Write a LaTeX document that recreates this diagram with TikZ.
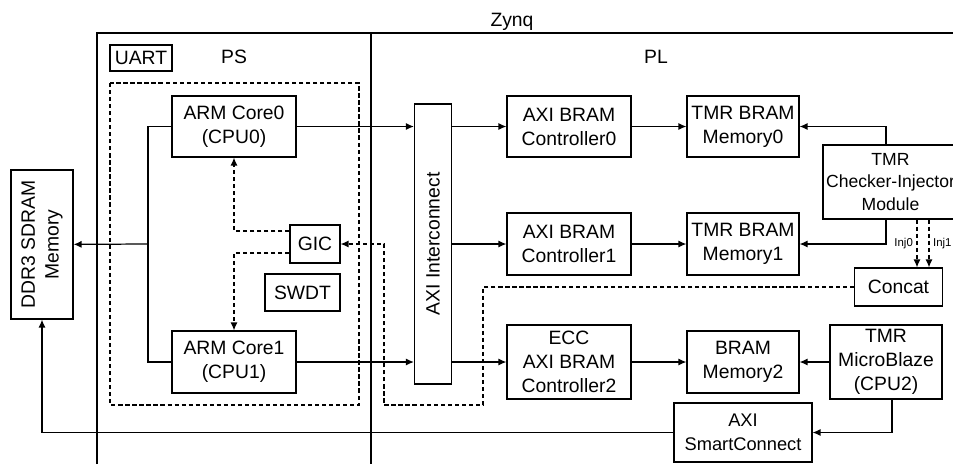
\documentclass[tikz,border=0pt]{standalone}
\usepackage{fontspec}
\setmainfont{Liberation Sans}
\usetikzlibrary{arrows.meta,positioning,calc}
\tikzset{
  blk/.style={draw,line width=0.7pt,align=center,inner sep=1pt,
    font=\fontsize{11}{13.6}\selectfont},
  link/.style={-{Latex[length=4.5pt,width=4pt]},line width=0.7pt},
  sig/.style={link,dash pattern=on 2.4pt off 1.6pt},
  lbl/.style={font=\fontsize{11}{13.6}\selectfont},
  injlbl/.style={font=\fontsize{6.5}{8}\selectfont,inner sep=2pt}
}

\begin{document}
\begin{tikzpicture}[x=0.02cm,y=-0.02cm]
\useasboundingbox (0,0) rectangle (953,464);
% Zynq frame, split into PS and PL
\draw[line width=0.8pt] (97,464) -- (97,33) -- (970,33);
\draw[line width=0.8pt] (371,33) -- (371,464);
\draw[line width=0.7pt,dash pattern=on 2.4pt off 1.6pt] (110,83) rectangle (359,405);
\node[lbl] (zynq) at (512,22) {Zynq};
\node[lbl] (ps) at (234,57) {PS};
\node[lbl] (pl) at (656,57) {PL};

% PS side
\node[blk,minimum width=1.24cm,minimum height=0.52cm] (uart) at (141,58) {UART};
\node[blk,minimum width=2.48cm,minimum height=1.22cm] (core0) at (234,126.5) {ARM Core0\\(CPU0)};
\node[blk,minimum width=2.48cm,minimum height=1.24cm] (core1) at (234,362) {ARM Core1\\(CPU1)};
\node[blk,minimum width=1cm,minimum height=0.76cm] (gic) at (315,244) {GIC};
\node[blk,minimum width=1.5cm,minimum height=0.74cm] (swdt) at (302.5,292.5) {SWDT};
\node[blk,minimum width=1.24cm,minimum height=2.98cm] (ddr) at (42,244.5)
  {\rotatebox{90}{\begin{tabular}{@{}c@{}}DDR3 SDRAM\\Memory\end{tabular}}};

% PL side
\node[blk,minimum width=0.74cm,minimum height=5.6cm] (ic) at (433,244) {\rotatebox{90}{AXI Interconnect}};
\node[blk,minimum width=2.48cm,minimum height=1.22cm] (ctrl0) at (569,126.5) {AXI BRAM\\Controller0};
\node[blk,minimum width=2.24cm,minimum height=1.22cm] (mem0) at (743,126.5) {TMR BRAM\\Memory0};
\node[blk,minimum width=2.48cm,minimum height=1.24cm] (ctrl1) at (569,244) {AXI BRAM\\Controller1};
\node[blk,minimum width=2.24cm,minimum height=1.24cm] (mem1) at (743,244) {TMR BRAM\\Memory1};
\node[blk,minimum width=2.48cm,minimum height=1.48cm] (ctrl2) at (569,362) {ECC\\AXI BRAM\\Controller2};
\node[blk,minimum width=2.24cm,minimum height=1.24cm] (mem2) at (743,362) {BRAM\\Memory2};
\node[blk,minimum width=2.7cm,minimum height=1.48cm,font=\fontsize{10}{12.6}\selectfont] (checker) at (890.5,182)
  {TMR\\Checker-Injector\\Module};
\node[blk,minimum width=1.76cm,minimum height=0.76cm] (concat) at (898.5,287) {Concat};
\node[blk,minimum width=2.24cm,minimum height=1.48cm] (mb) at (886,362) {TMR\\MicroBlaze\\(CPU2)};
\node[blk,minimum width=2.76cm,minimum height=1.18cm,font=\fontsize{10.4}{13.4}\selectfont] (sc) at (743,432.5)
  {AXI\\SmartConnect};

% buses
\coordinate (bus) at (148,244);
\draw[line width=0.7pt] (core0) -| (bus) |- (core1);
\draw[link] (bus) -- (ddr);
\draw[link] (core0) -- (core0 -| ic.west);
\draw[link] (core1) -- (core1 -| ic.west);
\draw[link] (ic.east |- ctrl0) -- (ctrl0);
\draw[link] (ic.east |- ctrl1) -- (ctrl1);
\draw[link] (ic.east |- ctrl2) -- (ctrl2);
\draw[link] (ctrl0) -- (mem0);
\draw[link] (ctrl1) -- (mem1);
\draw[link] (ctrl2) -- (mem2);
\draw[link] ([xshift=-0.09cm]checker.north) |- (mem0);
\draw[link] ([xshift=-0.09cm]checker.south) |- (mem1);
\draw[link] (mb) -- (mem2);
\draw[link] ([xshift=0.12cm]mb.south) |- (sc);
\draw[link] (sc) -| (ddr);

% interrupts / injection
\draw[sig] ([yshift=0.26cm]gic.west) -| (core0);
\draw[sig] ([yshift=-0.18cm]gic.west) -| (core1);
\coordinate (inj0) at ([xshift=0.37cm]concat.north);
\coordinate (inj1) at ([xshift=0.61cm]concat.north);
\draw[sig] (checker.south -| inj0) -- node[injlbl,left]{Inj0} (inj0);
\draw[sig] (checker.south -| inj1) -- node[injlbl,right]{Inj1} (inj1);
\coordinate (d1) at (483,405);
\coordinate (d2) at (384,405);
\draw[sig] (concat) -| (d1) -- (d2) |- (gic);
\end{tikzpicture}
\end{document}
